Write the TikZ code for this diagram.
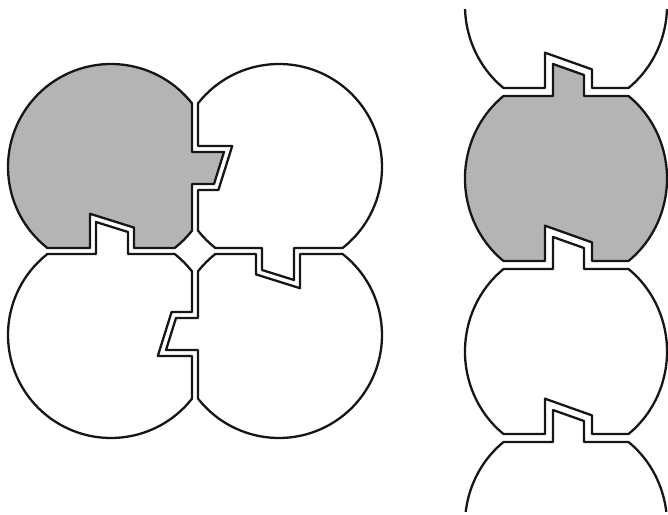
\documentclass[tikz,border=0pt]{standalone}
\definecolor{piecegray}{RGB}{180,180,180}
\definecolor{ink}{RGB}{22,22,22}
\tikzset{
  piece/.style={draw=ink, line width=2.3pt, line join=round, fill=white},
  graypiece/.style={piece, fill=piecegray}
}
% piece of the square group (local frame: centre at origin, tab on top, notch on right)
\newcommand\lpiece{(-63.62,81) -- (-15,81) -- (-15,113) -- (17,103) -- (17,81) -- (63.62,81)
  arc[start angle=51.85, end angle=38.15, radius=103]
  -- (81,23) -- (60.6,23) -- (46.8,-21) -- (81,-21) -- (81,-63.62)
  arc[start angle=-38.15, end angle=-231.85, radius=103] -- cycle}
% piece of the column (tab on top, notch at bottom)
\newcommand\rpiece{(-62.5,82.5) -- (-13,82.5) -- (-13,114.5) -- (18,103.5) -- (18,82.5) -- (62.5,82.5)
  arc[start angle=51.79, end angle=-51.79, x radius=101, y radius=105]
  -- (26,-82.5) -- (26,-63.9) -- (-21,-47.2) -- (-21,-82.5) -- (-62.5,-82.5)
  arc[start angle=231.79, end angle=128.21, x radius=101, y radius=105] -- cycle}
\begin{document}
\begin{tikzpicture}[x=1pt,y=1pt]
\useasboundingbox (0,0) rectangle (668,514);
\clip (0,0) rectangle (668,514);
% square group of four pieces around (195,263)
\begin{scope}[shift={(195,263)}, rotate=0, shift={(-84,-84)}]
  \filldraw[piece] \lpiece;
\end{scope}
\begin{scope}[shift={(195,263)}, rotate=-90, shift={(-84,-84)}]
  \filldraw[graypiece] \lpiece;
\end{scope}
\begin{scope}[shift={(195,263)}, rotate=-180, shift={(-84,-84)}]
  \filldraw[piece] \lpiece;
\end{scope}
\begin{scope}[shift={(195,263)}, rotate=90, shift={(-84,-84)}]
  \filldraw[piece] \lpiece;
\end{scope}
% column of pieces (cut off at the top and bottom)
\begin{scope}
\clip (440,3) rectangle (668,504);
\begin{scope}[shift={(566,508.5)}]
  \filldraw[piece] \rpiece;
\end{scope}
\begin{scope}[shift={(566,335.5)}]
  \filldraw[graypiece] \rpiece;
\end{scope}
\begin{scope}[shift={(566,162.5)}]
  \filldraw[piece] \rpiece;
\end{scope}
\begin{scope}[shift={(566,-10.5)}]
  \filldraw[piece] \rpiece;
\end{scope}
\end{scope}
\end{tikzpicture}
\end{document}
